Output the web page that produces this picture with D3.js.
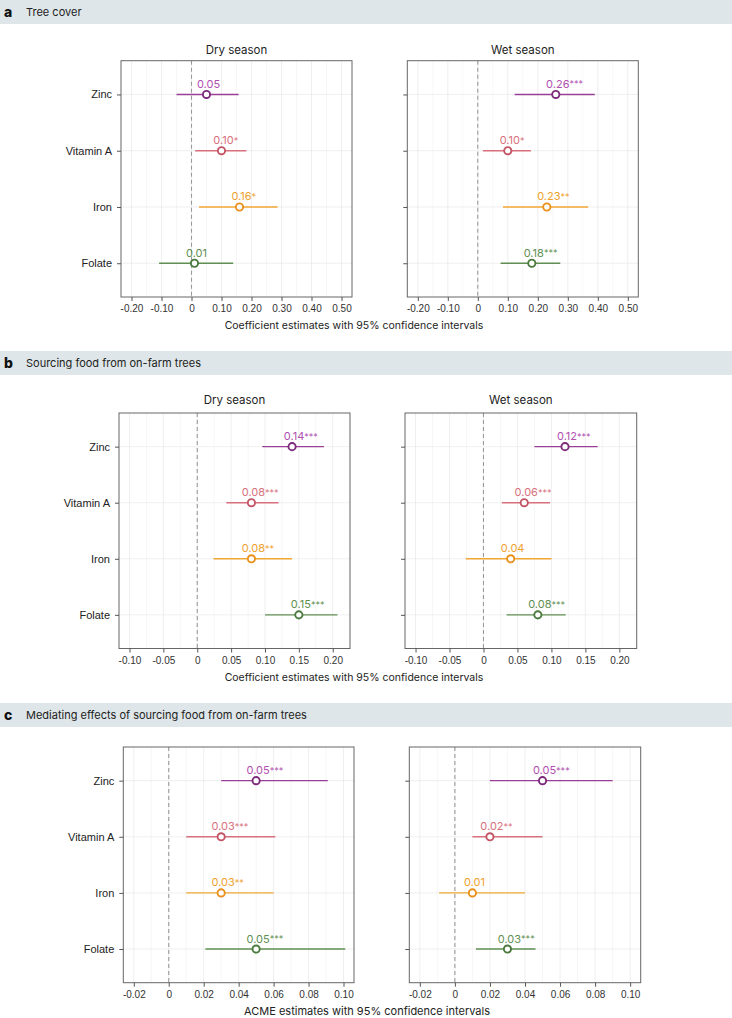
<!DOCTYPE html>
<html><head><meta charset="utf-8">
<script src="https://cdn.jsdelivr.net/npm/d3@7"></script>
<style>
body{margin:0;background:#fff}
svg{display:block;font-family:Inter,"Noto Sans",sans-serif}
</style>
</head><body>
<svg id="chart" width="732" height="1018"></svg>
<script>
// ---------- DATA ----------
const nutrients = ["Zinc", "Vitamin A", "Iron", "Folate"];
const seasons = ["Dry season", "Wet season"];
const panelLetters = ["a", "b", "c"];
const panelTitles = ["Tree cover", "Sourcing food from on-farm trees", "Mediating effects of sourcing food from on-farm trees"];
const axisTitles = ["Coefficient estimates with 95% confidence intervals", "Coefficient estimates with 95% confidence intervals", "ACME estimates with 95% confidence intervals"];

// Panel a: tree cover
const treeDryEst = [0.05, 0.10, 0.16, 0.01];
const treeDryLo  = [-0.050, 0.012, 0.025, -0.108];
const treeDryHi  = [0.157, 0.183, 0.287, 0.139];
const treeDrySig = ["", "*", "*", ""];
const treeWetEst = [0.26, 0.10, 0.23, 0.18];
const treeWetLo  = [0.123, 0.017, 0.084, 0.076];
const treeWetHi  = [0.390, 0.177, 0.368, 0.275];
const treeWetSig = ["***", "*", "**", "***"];

// Panel b: sourcing food from on-farm trees
const srcDryEst = [0.14, 0.08, 0.08, 0.15];
const srcDryLo  = [0.096, 0.043, 0.024, 0.100];
const srcDryHi  = [0.187, 0.120, 0.140, 0.207];
const srcDrySig = ["***", "***", "**", "***"];
const srcWetEst = [0.12, 0.06, 0.04, 0.08];
const srcWetLo  = [0.075, 0.027, -0.026, 0.034];
const srcWetHi  = [0.168, 0.098, 0.100, 0.121];
const srcWetSig = ["***", "***", "", "***"];

// Panel c: mediating effects (ACME)
const medDryEst = [0.05, 0.03, 0.03, 0.05];
const medDryLo  = [0.030, 0.010, 0.010, 0.021];
const medDryHi  = [0.091, 0.061, 0.060, 0.101];
const medDrySig = ["***", "***", "**", "***"];
const medWetEst = [0.05, 0.02, 0.01, 0.03];
const medWetLo  = [0.020, 0.010, -0.009, 0.012];
const medWetHi  = [0.090, 0.050, 0.040, 0.046];
const medWetSig = ["***", "**", "", "***"];

// Axis ticks
const treeTicks = [-0.2, -0.1, 0, 0.1, 0.2, 0.3, 0.4, 0.5];
const treeTickLabels = ["-0.20", "-0.10", "0", "0.10", "0.20", "0.30", "0.40", "0.50"];
const srcTicks = [-0.1, -0.05, 0, 0.05, 0.1, 0.15, 0.2];
const srcTickLabels = ["-0.10", "-0.05", "0", "0.05", "0.10", "0.15", "0.20"];
const medTicks = [-0.02, 0, 0.02, 0.04, 0.06, 0.08, 0.1];
const medTickLabels = ["-0.02", "0", "0.02", "0.04", "0.06", "0.08", "0.10"];
const treeLimits = [-0.2, 0.5];
const srcLimits = [-0.1, 0.21];
const medLimits = [-0.02, 0.1];

// ---------- STYLE / LAYOUT ----------
const lineColor   = {"Zinc": "#9a3f98", "Vitamin A": "#d8707d", "Iron": "#f2a734", "Folate": "#5f8f52"};
const strokeColor = {"Zinc": "#7c2c7a", "Vitamin A": "#c45565", "Iron": "#ea901c", "Folate": "#4a7a3d"};
const textColor   = {"Zinc": "#b050b0", "Vitamin A": "#d9707e", "Iron": "#efa12c", "Folate": "#5f8f52"};

const svg = d3.select("#chart");

function build(est, lo, hi, sig) {
  return nutrients.map((n, i) => ({n, est: est[i], lo: lo[i], hi: hi[i], sig: sig[i]}));
}

const panels = [
  {band: [0, 24], facetTitleY: 53.5, top: 60.7, bottom: 297, xs: [[121, 352], [407.3, 638.3]],
   limits: treeLimits, ticks: treeTicks, labels: treeTickLabels, titleX: 354, titleSize: 10.5,
   data: [build(treeDryEst, treeDryLo, treeDryHi, treeDrySig), build(treeWetEst, treeWetLo, treeWetHi, treeWetSig)], facetTitles: true},
  {band: [351, 375], facetTitleY: 404, top: 413, bottom: 648.5, xs: [[119, 350], [405, 636.7]],
   limits: srcLimits, ticks: srcTicks, labels: srcTickLabels, titleX: 354, titleSize: 10.5,
   data: [build(srcDryEst, srcDryLo, srcDryHi, srcDrySig), build(srcWetEst, srcWetLo, srcWetHi, srcWetSig)], facetTitles: true},
  {band: [703, 727], facetTitleY: null, top: 747, bottom: 982.7, xs: [[123.3, 354], [409.3, 640.7]],
   limits: medLimits, ticks: medTicks, labels: medTickLabels, titleX: 367, titleSize: 11,
   data: [build(medDryEst, medDryLo, medDryHi, medDrySig), build(medWetEst, medWetLo, medWetHi, medWetSig)], facetTitles: false}
];

panels.forEach((p, pi) => {
  // header band
  svg.append("rect").attr("x", 0).attr("y", p.band[0]).attr("width", 732).attr("height", p.band[1] - p.band[0])
     .attr("fill", "#dfe6e9");
  svg.append("text").attr("x", 4).attr("y", (p.band[0] + p.band[1]) / 2 + 5)
     .attr("font-size", 14).attr("font-weight", 800).attr("fill", "#111").text(panelLetters[pi]);
  svg.append("text").attr("x", 26).attr("y", (p.band[0] + p.band[1]) / 2 + 4)
     .attr("font-size", 11).attr("fill", "#222").text(panelTitles[pi]);

  const span = p.limits[1] - p.limits[0];
  const dom = [p.limits[0] - 0.05 * span, p.limits[1] + 0.05 * span];
  const y = d3.scalePoint().domain(nutrients).range([p.top, p.bottom]).padding(0.6);

  p.xs.forEach((xr, fi) => {
    const x = d3.scaleLinear().domain(dom).range(xr);
    const g = svg.append("g");
    const clip = "clip" + pi + fi;
    svg.append("clipPath").attr("id", clip).append("rect")
       .attr("x", xr[0]).attr("y", p.top).attr("width", xr[1] - xr[0]).attr("height", p.bottom - p.top);
    const gg = g.append("g").attr("clip-path", `url(#${clip})`);

    // minor grid
    const minor = [];
    for (let i = 0; i < p.ticks.length - 1; i++) minor.push((p.ticks[i] + p.ticks[i + 1]) / 2);
    const step = p.ticks[1] - p.ticks[0];
    minor.push(p.ticks[0] - step / 2, p.ticks[p.ticks.length - 1] + step / 2);
    gg.selectAll(".mg").data(minor).join("line")
      .attr("x1", d => x(d)).attr("x2", d => x(d)).attr("y1", p.top).attr("y2", p.bottom)
      .attr("stroke", "#f0f0f0").attr("stroke-width", 0.6);
    gg.selectAll(".Mg").data(p.ticks).join("line")
      .attr("x1", d => x(d)).attr("x2", d => x(d)).attr("y1", p.top).attr("y2", p.bottom)
      .attr("stroke", "#e8e8e8").attr("stroke-width", 0.7);
    gg.selectAll(".hg").data(nutrients).join("line")
      .attr("x1", xr[0]).attr("x2", xr[1]).attr("y1", d => y(d)).attr("y2", d => y(d))
      .attr("stroke", "#e8e8e8").attr("stroke-width", 0.7);
    // zero line
    gg.append("line").attr("x1", x(0)).attr("x2", x(0)).attr("y1", p.top).attr("y2", p.bottom)
      .attr("stroke", "#999").attr("stroke-width", 1.1).attr("stroke-dasharray", "4,3");

    const d = p.data[fi];
    gg.selectAll(".ci").data(d).join("line")
      .attr("x1", r => x(r.lo)).attr("x2", r => x(r.hi)).attr("y1", r => y(r.n)).attr("y2", r => y(r.n))
      .attr("stroke", r => lineColor[r.n]).attr("stroke-width", 1.4);
    gg.selectAll(".pt").data(d).join("circle")
      .attr("cx", r => x(r.est)).attr("cy", r => y(r.n)).attr("r", 3.6)
      .attr("fill", "#fff").attr("stroke", r => strokeColor[r.n]).attr("stroke-width", 1.9);

    d.forEach(r => {
      const t = g.append("text").attr("y", y(r.n) - 6.5).attr("font-size", 11)
                 .attr("fill", textColor[r.n]).attr("text-anchor", "start");
      t.append("tspan").text(d3.format(".2f")(r.est));
      const w = t.node().getComputedTextLength();
      t.attr("x", x(r.est) - w / 2 + 2);
      if (r.sig) t.append("tspan").attr("font-size", 9).attr("dy", -0.5).text(r.sig);
    });

    // frame
    g.append("rect").attr("x", xr[0]).attr("y", p.top).attr("width", xr[1] - xr[0]).attr("height", p.bottom - p.top)
     .attr("fill", "none").attr("stroke", "#666").attr("stroke-width", 1);

    // x axis
    const xa = g.append("g").attr("transform", `translate(0,${p.bottom})`)
      .call(d3.axisBottom(x).tickValues(p.ticks).tickFormat((v, i) => p.labels[i]).tickSize(4).tickPadding(4));
    xa.select(".domain").remove();
    xa.selectAll("line").attr("stroke", "#555");
    xa.selectAll("text").attr("font-size", 10).attr("fill", "#333").attr("font-family", null);

    // y axis
    const ya = g.append("g").attr("transform", `translate(${xr[0]},0)`)
      .call(d3.axisLeft(y).tickSize(4).tickPadding(5).tickFormat(fi === 0 ? (v => v) : (() => "")));
    ya.select(".domain").remove();
    ya.selectAll("line").attr("stroke", "#555");
    ya.selectAll("text").attr("font-size", 11).attr("fill", "#222").attr("font-family", null);

    if (p.facetTitles) {
      g.append("text").attr("x", (xr[0] + xr[1]) / 2).attr("y", p.facetTitleY).attr("text-anchor", "middle")
       .attr("font-size", 11.5).attr("fill", "#222").text(seasons[fi]);
    }
  });

  svg.append("text").attr("x", p.titleX).attr("y", p.bottom + 32).attr("text-anchor", "middle")
     .attr("font-size", p.titleSize).attr("fill", "#222").text(axisTitles[pi]);
});
</script>
</body></html>
